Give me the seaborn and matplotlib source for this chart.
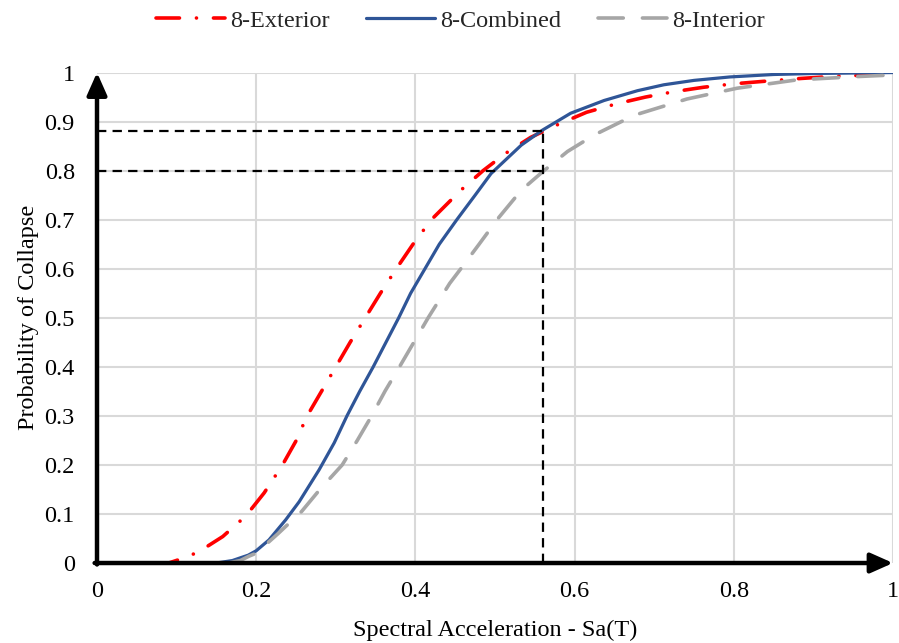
import matplotlib
matplotlib.use("Agg")
import matplotlib.pyplot as plt
import seaborn as sns
import pandas as pd

# Fragility curves: spectral acceleration Sa(T) vs probability of collapse
sa_exterior = [0.0, 0.09, 0.104, 0.127, 0.158, 0.187, 0.21, 0.233, 0.25, 0.264,
               0.282, 0.30, 0.318, 0.337, 0.356, 0.376, 0.397, 0.42, 0.457,
               0.485, 0.514, 0.545, 0.579, 0.615, 0.652, 0.689, 0.725, 0.762,
               0.80, 0.837, 0.885, 0.933, 1.0]
p_exterior = [0.0, 0.0, 0.0075, 0.022, 0.054, 0.096, 0.143, 0.20, 0.249, 0.30,
              0.35, 0.40, 0.45, 0.50, 0.55, 0.60, 0.65, 0.70, 0.76,
              0.80, 0.836, 0.868, 0.894, 0.919, 0.936, 0.95, 0.961, 0.97,
              0.977, 0.982, 0.988, 0.993, 0.996]

sa_combined = [0.0, 0.15, 0.17, 0.179, 0.19, 0.20, 0.216, 0.237, 0.254, 0.279,
               0.298, 0.314, 0.330, 0.347, 0.363, 0.379, 0.394, 0.412, 0.430,
               0.452, 0.475, 0.495, 0.533, 0.56, 0.595, 0.637, 0.679, 0.712,
               0.75, 0.795, 0.85, 0.90, 1.0]
p_combined = [0.0, 0.0, 0.005, 0.01, 0.016, 0.025, 0.047, 0.088, 0.125, 0.19,
              0.245, 0.30, 0.35, 0.40, 0.45, 0.50, 0.55, 0.60, 0.65,
              0.70, 0.75, 0.794, 0.852, 0.883, 0.917, 0.943, 0.963, 0.975,
              0.984, 0.991, 0.996, 0.998, 1.0]

sa_interior = [0.0, 0.165, 0.18, 0.191, 0.20, 0.2275, 0.257, 0.28, 0.308, 0.327,
               0.345, 0.362, 0.38, 0.398, 0.416, 0.443, 0.457, 0.48, 0.504,
               0.533, 0.56, 0.591, 0.625, 0.675, 0.741, 0.804, 0.879, 0.958, 1.0]
p_interior = [0.0, 0.0, 0.005, 0.014, 0.02, 0.06, 0.105, 0.15, 0.20, 0.25,
              0.30, 0.351, 0.40, 0.45, 0.50, 0.57, 0.60, 0.65, 0.703,
              0.76, 0.798, 0.839, 0.873, 0.913, 0.946, 0.968, 0.985, 0.992, 0.995]

series_names = ["8-Exterior", "8-Combined", "8-Interior"]

# Reference point markers
sa_ref = 0.56
p_ref_hi = 0.88
p_ref_lo = 0.80

x_ticks = [0, 0.2, 0.4, 0.6, 0.8, 1]
x_ticklabels = ["0", "0.2", "0.4", "0.6", "0.8", "1"]
y_ticks = [0, 0.1, 0.2, 0.3, 0.4, 0.5, 0.6, 0.7, 0.8, 0.9, 1]
y_ticklabels = ["0", "0.1", "0.2", "0.3", "0.4", "0.5", "0.6", "0.7", "0.8", "0.9", "1"]

sns.set_theme(style="white")
plt.rcParams["font.family"] = ["Liberation Serif", "DejaVu Serif"]

fig = plt.figure(figsize=(8.99, 6.43), dpi=100)
ax = fig.add_axes([0.1079, 0.1244, 0.8855, 0.7628])

FS = 17.5

# light grid
for xv in x_ticks[1:]:
    ax.axvline(xv, color="#d9d9d9", lw=1.5, zorder=0)
for yv in y_ticks[1:]:
    ax.axhline(yv, color="#d9d9d9", lw=1.5, zorder=0)

df_ext = pd.DataFrame({"Sa": sa_exterior, "P": p_exterior})
df_com = pd.DataFrame({"Sa": sa_combined, "P": p_combined})
df_int = pd.DataFrame({"Sa": sa_interior, "P": p_interior})

sns.lineplot(data=df_ext, x="Sa", y="P", ax=ax, color="#ff0000", lw=2.6,
             linestyle=(0, (6.5, 4.7, 0.01, 4.7)), dash_capstyle="round",
             solid_joinstyle="round", label=series_names[0], zorder=3, sort=False)
sns.lineplot(data=df_com, x="Sa", y="P", ax=ax, color="#2f5597", lw=2.3,
             solid_joinstyle="round", label=series_names[1], zorder=4, sort=False)
sns.lineplot(data=df_int, x="Sa", y="P", ax=ax, color="#a6a6a6", lw=2.6,
             linestyle=(0, (7, 5.3)), dash_capstyle="round",
             label=series_names[2], zorder=5, sort=False)

# dashed guide lines at the reference point
ref_kw = dict(color="black", lw=1.6, linestyle=(0, (4.2, 2.8)), zorder=6)
ax.plot([0, sa_ref], [p_ref_hi, p_ref_hi], **ref_kw)
ax.plot([0, sa_ref], [p_ref_lo, p_ref_lo], **ref_kw)
ax.plot([sa_ref, sa_ref], [0, p_ref_hi], **ref_kw)

ax.set_xlim(0, 1)
ax.set_ylim(0, 1)
for s in ax.spines.values():
    s.set_visible(False)

# arrowed axes
arrow_kw = dict(arrowstyle="-|>,head_length=0.9,head_width=0.4", lw=3.2,
                color="black", shrinkA=0, shrinkB=0, mutation_scale=15)
ax.annotate("", xy=(1.0, 0), xytext=(-0.003, 0), arrowprops=arrow_kw,
            annotation_clip=False, zorder=7)
ax.annotate("", xy=(0, 1.0), xytext=(0, -0.003), arrowprops=arrow_kw,
            annotation_clip=False, zorder=7)

ax.set_xticks(x_ticks)
ax.set_xticklabels(x_ticklabels)
ax.set_yticks(y_ticks)
ax.set_yticklabels(y_ticklabels)
ax.tick_params(axis="x", length=0, pad=13, labelsize=FS, colors="black")
ax.tick_params(axis="y", length=0, pad=16, labelsize=FS, colors="black")
ax.grid(False)

ax.set_xlabel("Spectral Acceleration - Sa(T)", fontsize=FS, color="black", labelpad=13)
ax.set_ylabel("Probability of Collapse", fontsize=FS, color="black", labelpad=4)

handles, labels = ax.get_legend_handles_labels()
if ax.legend_ is not None:
    ax.legend_.remove()
fig.legend(handles, labels, loc="center", bbox_to_anchor=(0.512, 0.968), ncol=3,
           frameon=False, fontsize=FS, handlelength=2.85, handletextpad=0.2,
           columnspacing=1.5)

fig.savefig("out.png", dpi=100)
